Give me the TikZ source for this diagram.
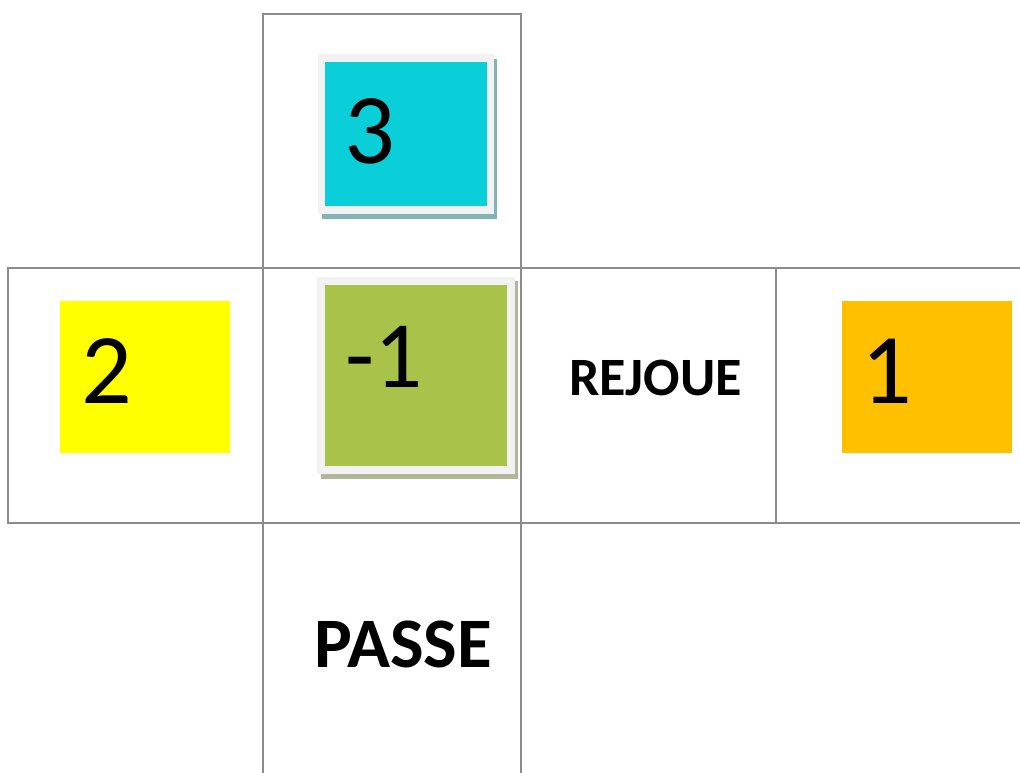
\documentclass[tikz,border=0pt]{standalone}
\usepackage{fontspec}
\setmainfont{Carlito}
\definecolor{gridgray}{HTML}{8C8C8C}
\definecolor{framegray}{HTML}{F2F2F2}
\definecolor{cyanface}{HTML}{0BCFD8}
\definecolor{cyanshadow}{HTML}{80B4B6}
\definecolor{greenface}{HTML}{A9C34A}
\definecolor{greenshadow}{HTML}{B3B79A}
\definecolor{yellowface}{HTML}{FFFF00}
\definecolor{orangeface}{HTML}{FFC000}
\tikzset{
  cell/.style={draw=gridgray, line width=2.2pt},
  digit/.style={inner sep=0pt, anchor=base west, font=\fontsize{100}{100}\selectfont},
  word/.style={inner sep=0pt, anchor=base west, font=\bfseries},
}
\begin{document}
\begin{tikzpicture}[x=1pt,y=-1pt]
\useasboundingbox (0,0) rectangle (1020,772);
% grid of cells
\draw[cell] (263,14) rectangle (521,268);
\draw[cell] (8,268) rectangle (263,523);
\draw[cell] (263,268) rectangle (521,523);
\draw[cell] (521,268) rectangle (776,523);
\draw[cell] (776,268) -- (1022,268);
\draw[cell] (776,523) -- (1022,523);
\draw[cell] (263,523) -- (263,775);
\draw[cell] (521,523) -- (521,775);
% face 3
\fill[cyanshadow] (322,59) rectangle (497,219);
\fill[framegray] (318,54) rectangle (494,214);
\fill[cyanface] (325,62) rectangle (487,206);
\node[digit] (t3) at (344,163) {3};
% face -1
\fill[greenshadow] (321,281) rectangle (518,479);
\fill[framegray] (317,277) rectangle (515,474);
\fill[greenface] (325,285) rectangle (507,466);
\node[digit, font=\fontsize{95}{95}\selectfont] (tm1) at (345,387) {-1};
% face 2
\fill[yellowface] (60,301) rectangle (230,453);
\node[digit] (t2) at (81,403) {2};
% face 1
\fill[orangeface] (842,301) rectangle (1012,453);
\node[digit] (t1) at (861,403) {1};
% words
\node[word, font=\bfseries\fontsize{54}{54}\selectfont] (rejoue) at (569,395) {REJOUE};
\node[word, font=\bfseries\fontsize{71}{71}\selectfont] (passe) at (314,667) {PASSE};
\end{tikzpicture}
\end{document}
